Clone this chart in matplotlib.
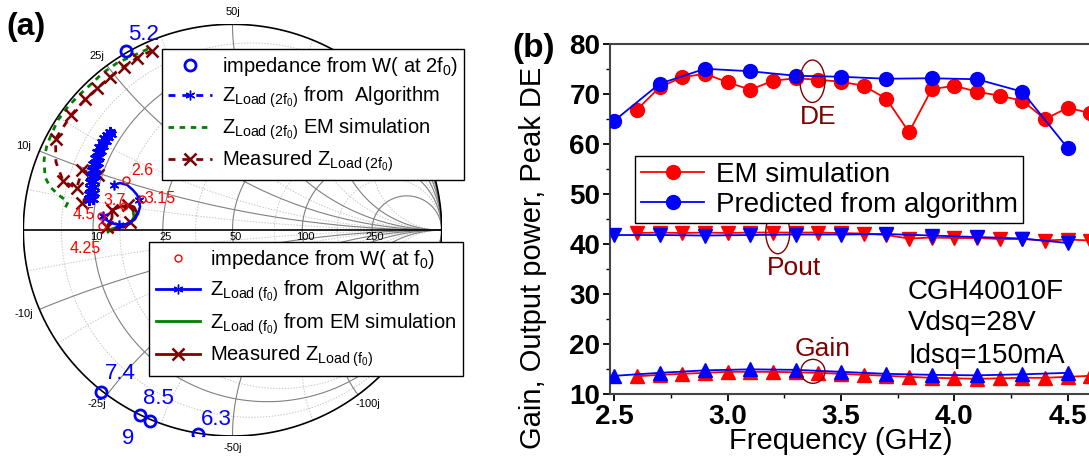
import numpy as np
import matplotlib
matplotlib.use('Agg')
import matplotlib.pyplot as plt
from matplotlib.patches import Ellipse

plt.rcParams['font.family'] = 'Liberation Sans'
plt.rcParams['mathtext.fontset'] = 'custom'
plt.rcParams['mathtext.rm'] = 'Liberation Sans'
plt.rcParams['mathtext.it'] = 'Liberation Sans:italic'
plt.rcParams['mathtext.bf'] = 'Liberation Sans:bold'

# ---------------- (a) Smith chart data, reflection coefficient (Z0 = 50 ohm)
# impedance from W at 2f0 (blue circles) and their frequency labels
w2f0_lab = ['5.2', '7.4', '8.5', '9', '6.3']
w2f0_re = [-0.509, -0.629, -0.442, -0.394, -0.163]
w2f0_im = [0.868, -0.784, -0.898, -0.925, -0.991]

# impedance from W at f0 (red circles)
wf0_lab = ['2.6', '3.15', '3.7', '4.5', '4.25']
wf0_re = [-0.507, -0.434, -0.519, -0.629, -0.626]
wf0_im = [0.244, 0.152, 0.118, 0.069, 0.018]

# Z_Load(2f0) from algorithm (dense column of stars)
alg2_re = [-0.686, -0.667, -0.684, -0.664, -0.681, -0.662, -0.679, -0.660, -0.676,
           -0.657, -0.672, -0.652, -0.667, -0.645, -0.657, -0.638, -0.648, -0.629,
           -0.638, -0.619, -0.626, -0.607, -0.614, -0.595, -0.600, -0.581, -0.585]
alg2_im = [0.147, 0.152, 0.176, 0.181, 0.205, 0.210, 0.234, 0.239, 0.263,
           0.268, 0.292, 0.297, 0.321, 0.326, 0.350, 0.355, 0.380, 0.385,
           0.404, 0.409, 0.428, 0.433, 0.447, 0.452, 0.462, 0.467, 0.477]

# Z_Load(2f0) EM simulation
em2_re = [-0.404, -0.456, -0.552, -0.619, -0.681, -0.743, -0.791, -0.834, -0.863,
          -0.887, -0.901, -0.896, -0.872, -0.825, -0.786, -0.805]
em2_im = [0.880, 0.856, 0.812, 0.764, 0.705, 0.647, 0.594, 0.535, 0.472,
          0.414, 0.341, 0.258, 0.210, 0.166, 0.137, 0.098]

# measured Z_Load(2f0)
meas2_re = [-0.386, -0.455, -0.519, -0.586, -0.646, -0.703, -0.771, -0.846, -0.844,
            -0.809, -0.745, -0.719, -0.641, -0.718]
meas2_im = [0.872, 0.838, 0.794, 0.743, 0.689, 0.636, 0.560, 0.443, 0.331,
            0.237, 0.204, 0.290, 0.268, 0.131]

# Z_Load(f0) from algorithm
alg1_re = [-0.566, -0.538, -0.504, -0.476, -0.456, -0.447, -0.442, -0.452, -0.471,
           -0.504, -0.543, -0.581, -0.609, -0.619]
alg1_im = [0.220, 0.229, 0.220, 0.195, 0.171, 0.147, 0.113, 0.079, 0.050,
           0.030, 0.025, 0.035, 0.054, 0.069]

# Z_Load(f0) from EM simulation
em1_re = [-0.595, -0.576, -0.547, -0.514, -0.485, -0.471, -0.476, -0.495, -0.519]
em1_im = [-0.009, 0.006, 0.016, 0.020, 0.035, 0.064, 0.098, 0.117, 0.113]

# measured Z_Load(f0)
meas1_re = [-0.600, -0.576, -0.576, -0.538, -0.500, -0.471, -0.456, -0.466, -0.490,
            -0.528, -0.566]
meas1_im = [0.016, 0.059, 0.098, 0.113, 0.122, 0.113, 0.084, 0.054, 0.040,
            0.016, 0.001]

# grid of the chart (normalised values) and labels in ohm
grid_r = [0.2, 0.5, 1.0, 2.0, 5.0]
grid_r_lab = ['10', '25', '50', '100', '250']
grid_x = [0.2, 0.5, 1.0, -0.2, -0.5, -1.0, -2.0]
grid_x_lab = ['10j', '25j', '50j', '-10j', '-25j', '-50j', '-100j']
minor_r = [0.1, 0.3, 0.7, 1.5, 3.0]
minor_x = [0.1, 0.3, 0.7, 1.5, 3.0, -0.1, -0.3, -0.7, -1.5, -3.0]

# ---------------- (b) performance vs frequency
freq_em = [2.6, 2.7, 2.8, 2.9, 3.0, 3.1, 3.2, 3.3, 3.4, 3.5, 3.6, 3.7, 3.8, 3.9,
           4.0, 4.1, 4.2, 4.3, 4.4, 4.5, 4.6]
de_em = [66.9, 71.4, 73.4, 74.1, 72.4, 70.9, 72.7, 73.2, 72.9, 72.5, 71.7, 69.1,
         62.4, 71.0, 71.7, 70.5, 69.7, 68.7, 65.0, 67.3, 66.2]
pout_em = [42.2, 42.3, 42.2, 42.3, 42.2, 42.3, 42.3, 42.3, 42.3, 42.2, 42.1, 41.8,
           41.1, 41.3, 41.2, 41.2, 41.0, 41.0, 40.7, 40.9, 40.7]
gain_em = [13.5, 13.8, 14.0, 14.2, 14.4, 14.4, 14.4, 14.3, 14.2, 14.0, 13.8, 13.6,
           13.4, 13.2, 13.1, 13.0, 13.1, 13.2, 13.2, 13.4, 13.6]

freq_alg = [2.5, 2.7, 2.9, 3.1, 3.3, 3.5, 3.7, 3.9, 4.1, 4.3, 4.5]
de_alg = [64.7, 72.1, 75.1, 74.6, 73.7, 73.5, 73.1, 73.2, 73.0, 70.5, 59.2]
pout_alg = [41.8, 41.8, 41.7, 41.8, 41.9, 41.9, 42.0, 41.7, 41.4, 41.1, 40.2]
gain_alg = [13.6, 14.2, 14.7, 14.9, 14.8, 14.4, 14.0, 13.8, 13.7, 13.9, 14.2]

W, H = 1089, 459
fig = plt.figure(figsize=(W / 100, H / 100), dpi=100)


def gam(z):
    return (z - 1) / (z + 1)


# ================= Smith chart =================
ax1 = fig.add_axes([23.3 / W, 1 - 436 / H, 418.4 / W, 411.7 / H])
ax1.set_xlim(-1, 1)
ax1.set_ylim(-1, 1)
ax1.axis('off')

xs = np.concatenate([-np.logspace(3, -3, 500), [0], np.logspace(-3, 3, 500)])
rs = np.concatenate([[0], np.logspace(-3, 3, 800)])
for r in minor_r:
    g = gam(r + 1j * xs)
    ax1.plot(g.real, g.imag, color='#c8c8c8', lw=0.7, ls=(0, (1.5, 1.5)), zorder=1)
for x in minor_x:
    g = gam(rs + 1j * x)
    ax1.plot(g.real, g.imag, color='#c8c8c8', lw=0.7, ls=(0, (1.5, 1.5)), zorder=1)
for r in grid_r:
    g = gam(r + 1j * xs)
    ax1.plot(g.real, g.imag, color='#808080', lw=0.8, zorder=2)
for x in grid_x + [2.0]:
    g = gam(rs + 1j * x)
    ax1.plot(g.real, g.imag, color='#808080', lw=0.8, zorder=2)
t = np.linspace(0, 2 * np.pi, 600)
ax1.plot(np.cos(t), np.sin(t), color='black', lw=1.2, zorder=3)
ax1.plot([-1, 1], [0, 0], color='black', lw=1.2, zorder=3)

for r, lab in zip(grid_r, grid_r_lab):
    ax1.annotate(lab, (gam(r), 0), xytext=(3, -7), textcoords='offset pixels',
                 ha='center', va='center', fontsize=8)
for x, lab in zip(grid_x, grid_x_lab):
    g = gam(1j * x)
    ang = np.angle(g)
    ax1.annotate(lab, (g.real, g.imag), xytext=(17 * np.cos(ang), 12 * np.sin(ang)),
                 textcoords='offset pixels', ha='center', va='center', fontsize=8)

ax1.plot(em2_re, em2_im, color='#008000', lw=2, ls=(0, (2, 2)), zorder=4)
ax1.plot(meas2_re, meas2_im, color='#800000', lw=2, ls=(0, (2.5, 2.5)), marker='x',
         ms=8, mew=1.8, markevery=[0, 1, 2, 3, 4, 5, 6, 7, 9, 10, 11, 12, 13], zorder=5)
ax1.plot(alg2_re, alg2_im, color='#0000ff', lw=2, ls=(0, (2.5, 2.5)), marker=(6, 2, 0),
         ms=8, mew=1.5, zorder=6)
ax1.plot(em1_re, em1_im, color='#008000', lw=2, zorder=6)
ax1.plot(meas1_re, meas1_im, color='#800000', lw=2, marker='x', ms=8, mew=1.8,
         markevery=[0, 2, 4, 8], zorder=7)
ax1.plot(alg1_re, alg1_im, color='#0000ff', lw=1.8, marker=(6, 2, 0), ms=7, mew=1.2,
         markevery=[0, 5, 10, 13], zorder=8)
ax1.plot(wf0_re, wf0_im, ls='none', marker='o', ms=5, mfc='none', mec='#ff0000',
         mew=1, zorder=9)
ax1.plot(w2f0_re, w2f0_im, ls='none', marker='o', ms=8, mfc='none', mec='#0000ff',
         mew=2, zorder=9)

w2f0_off = [(2, 17, 'left'), (19, 18, 'center'), (18, 17, 'center'), (-22, -18, 'center'),
            (18, 15, 'center')]
for re_, im_, lab, (dx, dy, ha) in zip(w2f0_re, w2f0_im, w2f0_lab, w2f0_off):
    ax1.annotate(lab, (re_, im_), xytext=(dx, dy), textcoords='offset pixels',
                 ha=ha, va='center', fontsize=16, color='#0000ff', zorder=10)
wf0_off = [(5, 9), (3, 0), (-20, 5), (-28, 1), (-32, -22)]
for re_, im_, lab, (dx, dy) in zip(wf0_re, wf0_im, wf0_lab, wf0_off):
    ax1.annotate(lab, (re_, im_), xytext=(dx, dy), textcoords='offset pixels',
                 ha='left', va='center', fontsize=11.5, color='#ff0000', zorder=10)

h1 = [
    ax1.plot([], [], ls='none', marker='o', ms=8, mfc='none', mec='#0000ff', mew=2)[0],
    ax1.plot([], [], color='#0000ff', lw=2, ls=(0, (2.5, 2.5)), marker=(6, 2, 0), ms=7)[0],
    ax1.plot([], [], color='#008000', lw=2, ls=(0, (2, 2)))[0],
    ax1.plot([], [], color='#800000', lw=2, ls=(0, (2.5, 2.5)), marker='x', ms=8, mew=1.8)[0],
]
l1 = [r'impedance from W( at 2f$_0$)',
      r'Z$_{\mathregular{Load\ (2f_0)}}$ from  Algorithm',
      r'Z$_{\mathregular{Load\ (2f_0)}}$ EM simulation',
      r'Measured Z$_{\mathregular{Load\ (2f_0)}}$']
leg1 = fig.legend(h1, l1, loc='upper left', bbox_to_anchor=(161.7 / W, 1 - 49.3 / H),
                  fontsize=14.5, frameon=True, fancybox=False, edgecolor='black',
                  framealpha=1, borderaxespad=0, handlelength=2.2, labelspacing=0.32,
                  borderpad=0.3, handletextpad=0.5)
leg1.get_frame().set_linewidth(1)

h2 = [
    ax1.plot([], [], ls='none', marker='o', ms=5, mfc='none', mec='#ff0000', mew=1)[0],
    ax1.plot([], [], color='#0000ff', lw=2, marker=(6, 2, 0), ms=7)[0],
    ax1.plot([], [], color='#008000', lw=2)[0],
    ax1.plot([], [], color='#800000', lw=2, marker='x', ms=8, mew=1.8)[0],
]
l2 = [r'impedance from W( at f$_0$)',
      r'Z$_{\mathregular{Load\ (f_0)}}$ from  Algorithm',
      r'Z$_{\mathregular{Load\ (f_0)}}$ from EM simulation',
      r'Measured Z$_{\mathregular{Load\ (f_0)}}$']
leg2 = fig.legend(h2, l2, loc='upper left', bbox_to_anchor=(149.3 / W, 1 - 241.7 / H),
                  fontsize=14.5, frameon=True, fancybox=False, edgecolor='black',
                  framealpha=1, borderaxespad=0, handlelength=2.2, labelspacing=0.36,
                  borderpad=0.32, handletextpad=0.5)
leg2.get_frame().set_linewidth(1)

fig.text(26 / W, 1 - 27 / H, '(a)', fontsize=23, fontweight='bold', ha='center', va='center')

# ================= frequency plot =================
x0, x1 = 2.481, 4.75
ax2 = fig.add_axes([610 / W, 1 - 393.8 / H, (x1 - x0) * 226.7 / W, 349.5 / H])
ax2.set_xlim(x0, x1)
ax2.set_ylim(10, 80)

ax2.plot(freq_em, de_em, color='#ff0000', lw=1.3, marker='o', ms=10, zorder=3)
ax2.plot(freq_alg, de_alg, color='#0000ff', lw=1.3, marker='o', ms=10, zorder=4)
ax2.plot(freq_em, pout_em, color='#ff0000', lw=1.3, marker='v', ms=10, zorder=3)
ax2.plot(freq_alg, pout_alg, color='#0000ff', lw=1.3, marker='v', ms=10, zorder=4)
ax2.plot(freq_em, gain_em, color='#ff0000', lw=1.3, marker='^', ms=10, zorder=3)
ax2.plot(freq_alg, gain_alg, color='#0000ff', lw=1.3, marker='^', ms=10, zorder=4)

dk = '#800000'
ax2.add_patch(Ellipse((3.374, 72.6), 0.11, 8.5, fill=False, ec=dk, lw=1, zorder=5))
ax2.add_patch(Ellipse((3.221, 42.3), 0.106, 8.5, fill=False, ec=dk, lw=1, zorder=5))
ax2.add_patch(Ellipse((3.376, 14.5), 0.106, 4.8, fill=False, ec=dk, lw=1, zorder=5))
ax2.text(3.398, 65.5, 'DE', color=dk, fontsize=19, ha='center', va='center')
ax2.text(3.292, 35.2, 'Pout', color=dk, fontsize=19, ha='center', va='center')
ax2.text(3.419, 18.9, 'Gain', color=dk, fontsize=19, ha='center', va='center')
ax2.text(3.796, 30.4, 'CGH40010F', fontsize=20, ha='left', va='center')
ax2.text(3.796, 24.1, 'Vdsq=28V', fontsize=20, ha='left', va='center')
ax2.text(3.796, 17.6, 'Idsq=150mA', fontsize=20, ha='left', va='center')

ax2.set_xticks([2.5, 3.0, 3.5, 4.0, 4.5])
ax2.set_xticks([2.75, 3.25, 3.75, 4.25, 4.75], minor=True)
ax2.set_yticks([10, 20, 30, 40, 50, 60, 70, 80])
ax2.set_yticks([15, 25, 35, 45, 55, 65, 75], minor=True)
ax2.tick_params(axis='both', which='major', labelsize=20, length=5, width=1.3,
                direction='out', pad=2)
ax2.tick_params(axis='both', which='minor', length=3, width=1.0, direction='out')
for lb in ax2.get_xticklabels() + ax2.get_yticklabels():
    lb.set_fontweight('bold')
for sp in ax2.spines.values():
    sp.set_linewidth(1.5)
    sp.set_color('#444444')
ax2.set_xlabel('Frequency (GHz)', fontsize=21, labelpad=-1)
ax2.xaxis.set_label_coords((841 - 610) / ((x1 - x0) * 226.7), -0.095)
ax2.set_ylabel('Gain, Output power, Peak DE', fontsize=21, labelpad=2)
ax2.yaxis.set_label_coords(-0.122, (393.8 - 258) / 349.5)

h3 = [ax2.plot([], [], color='#ff0000', lw=1.3, marker='o', ms=10)[0],
      ax2.plot([], [], color='#0000ff', lw=1.3, marker='o', ms=10)[0]]
leg3 = ax2.legend(h3, ['EM simulation', 'Predicted from algorithm'], loc='upper left',
                  bbox_to_anchor=(25 / ((x1 - x0) * 226.7), (393.8 - 156) / 349.5),
                  fontsize=20, frameon=True, fancybox=False, edgecolor='black',
                  framealpha=1, borderaxespad=0, handlelength=2.3, labelspacing=0.15,
                  borderpad=0.2, handletextpad=0.4)
leg3.get_frame().set_linewidth(1)

fig.text(534 / W, 1 - 48 / H, '(b)', fontsize=24, fontweight='bold', ha='center', va='center')

fig.savefig('out.png', dpi=100)
